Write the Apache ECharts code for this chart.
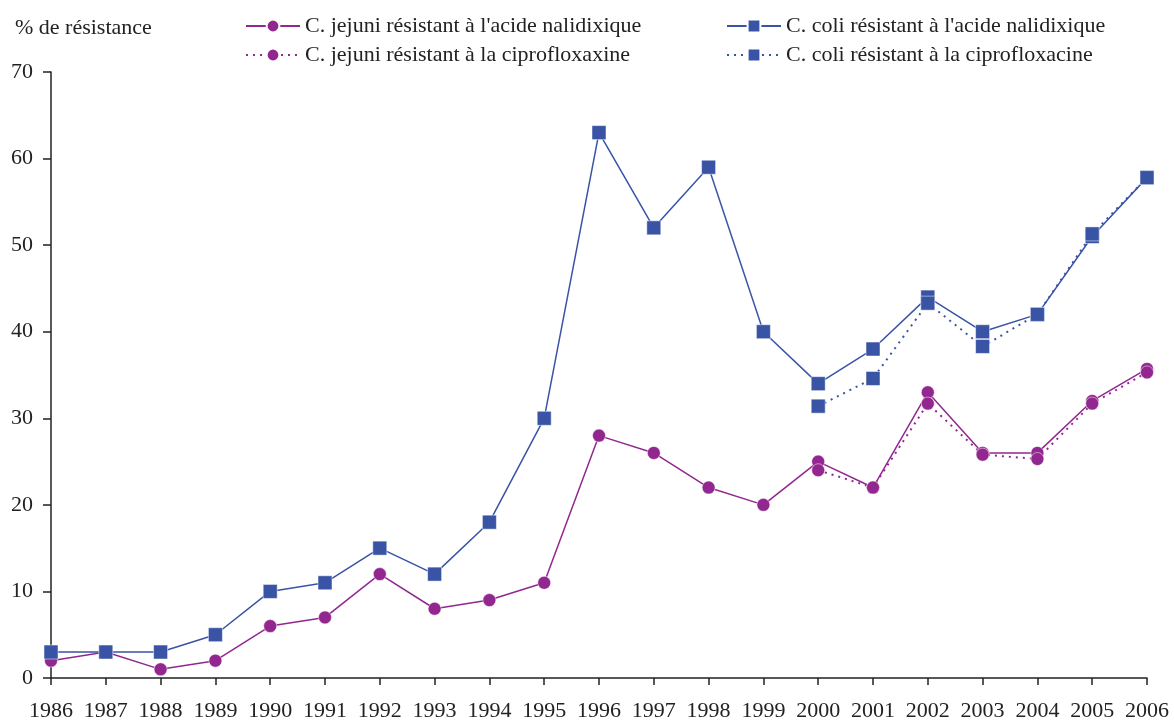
<!DOCTYPE html>
<html>
<head>
<meta charset="utf-8">
<script src="https://cdn.jsdelivr.net/npm/echarts@6/dist/echarts.min.js"></script>
<style>
  html, body { margin: 0; padding: 0; background: #fff; }
  #chart { width: 1174px; height: 722px; }
</style>
</head>
<body>
<div id="chart"></div>
<script>
const years = ["1986", "1987", "1988", "1989", "1990", "1991", "1992", "1993", "1994", "1995", "1996",
  "1997", "1998", "1999", "2000", "2001", "2002", "2003", "2004", "2005", "2006"];

const jejuniNal = [2, 3, 1, 2, 6, 7, 12, 8, 9, 11, 28, 26, 22, 20, 25, 22, 33, 26, 26, 32, 35.7];
const coliNal = [3, 3, 3, 5, 10, 11, 15, 12, 18, 30, 63, 52, 59, 40, 34, 38, 44, 40, 42, 51, 57.8];
const jejuniCipro = [null, null, null, null, null, null, null, null, null, null, null,
  null, null, null, 24, 22, 31.7, 25.8, 25.3, 31.7, 35.3];
const coliCipro = [null, null, null, null, null, null, null, null, null, null, null,
  null, null, null, 31.4, 34.6, 43.3, 38.3, 42, 51.3, 57.8];

const purple = "#92278f";
const blue = "#3953a5";
const font = "'Liberation Serif', 'Times New Roman', serif";
const textColor = "#222";

const chart = echarts.init(document.getElementById("chart"));

function makeSeries(name, data, color, symbol, size, dotted) {
  return {
    name: name,
    type: "line",
    data: data,
    symbol: symbol,
    symbolSize: size,
    connectNulls: false,
    lineStyle: { color: color, width: dotted ? 2 : 1.5, type: dotted ? [2, 5] : "solid" },
    itemStyle: { color: color, borderColor: "#fff", borderWidth: 0.5 },
    emphasis: { disabled: true },
  };
}

const legendBase = {
  top: 10,
  orient: "vertical",
  itemWidth: 54,
  itemHeight: 16,
  itemGap: 7,
  textStyle: { fontFamily: font, fontSize: 22, color: textColor },
};

chart.setOption({
  animation: false,
  textStyle: { fontFamily: font },
  title: {
    text: "% de résistance",
    left: 10,
    top: 12,
    textStyle: { fontFamily: font, fontSize: 22, fontWeight: "normal", color: textColor },
  },
  legend: [
    Object.assign({}, legendBase, {
      left: 240,
      data: ["C. jejuni résistant à l'acide nalidixique", "C. jejuni résistant à la ciprofloxaxine"],
    }),
    Object.assign({}, legendBase, {
      left: 721,
      data: ["C. coli résistant à l'acide nalidixique", "C. coli résistant à la ciprofloxacine"],
    }),
  ],
  grid: { left: 51, right: 27, top: 72, bottom: 43, containLabel: false },
  xAxis: {
    type: "category",
    data: years,
    boundaryGap: false,
    axisLine: { lineStyle: { color: textColor, width: 1.5 } },
    axisTick: { alignWithLabel: true, length: 7, lineStyle: { color: textColor, width: 1.5 } },
    axisLabel: { color: textColor, fontSize: 22, fontFamily: font, margin: 22, interval: 0 },
  },
  yAxis: {
    type: "value",
    min: 0,
    max: 70,
    interval: 10,
    axisLine: { show: true, lineStyle: { color: textColor, width: 1.5 } },
    axisTick: { show: true, length: 8, lineStyle: { color: textColor, width: 1.5 } },
    axisLabel: { color: textColor, fontSize: 22, fontFamily: font, margin: 18 },
    splitLine: { show: false },
  },
  series: [
    makeSeries("C. jejuni résistant à l'acide nalidixique", jejuniNal, purple, "circle", 13, false),
    makeSeries("C. coli résistant à l'acide nalidixique", coliNal, blue, "rect", 14, false),
    makeSeries("C. jejuni résistant à la ciprofloxaxine", jejuniCipro, purple, "circle", 13, true),
    makeSeries("C. coli résistant à la ciprofloxacine", coliCipro, blue, "rect", 14, true),
  ],
});
</script>
</body>
</html>
